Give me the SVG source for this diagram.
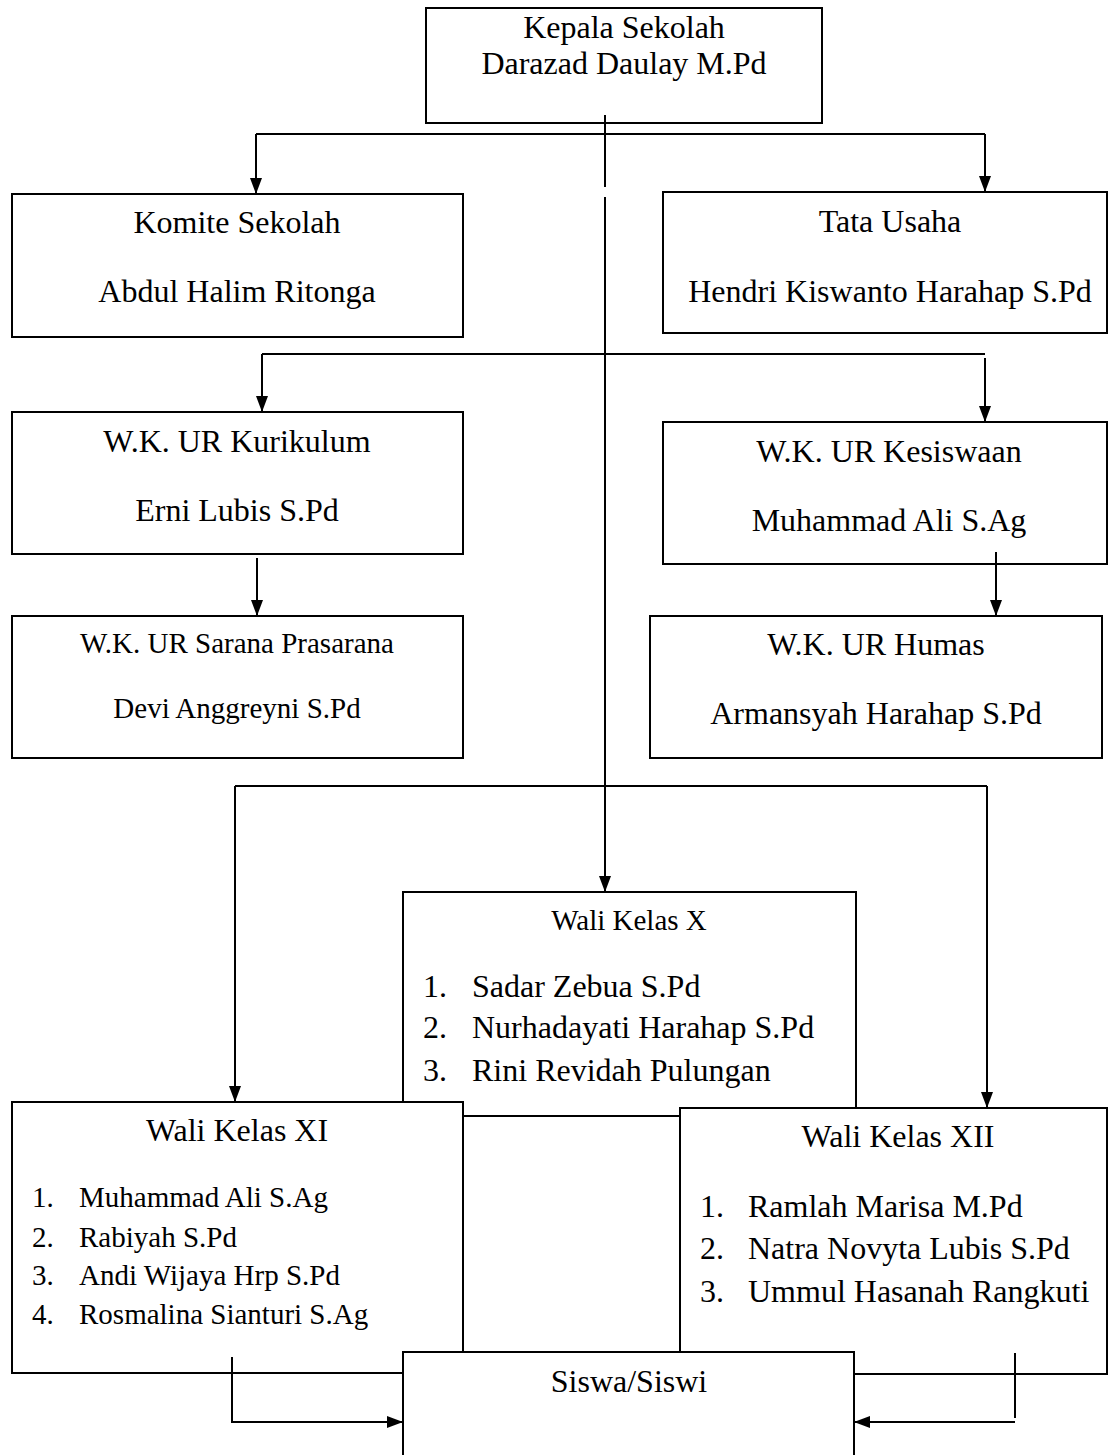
<svg xmlns="http://www.w3.org/2000/svg" width="1109" height="1455" viewBox="0 0 1109 1455">
<style>
.box{fill:#fff;stroke:#000;stroke-width:2}
.t{font-family:"Liberation Serif","Times New Roman",serif;font-size:32px;fill:#000}
.s{font-size:29px}
.m{text-anchor:middle}
.c{fill:none;stroke:#000;stroke-width:2}
</style>
<defs>
<marker id="arr" markerUnits="userSpaceOnUse" markerWidth="16" markerHeight="12" viewBox="0 0 16 12" refX="16" refY="6" orient="auto">
<path d="M0,0 L16,6 L0,12 z" fill="#000"/>
</marker>
</defs>
<rect width="1109" height="1455" fill="#fff"/>
<g id="nodes">
<g id="kepala">
<rect class="box" x="426" y="8" width="396" height="115"/>
<text class="t m" x="624" y="38">Kepala Sekolah</text>
<text class="t m" x="624" y="74">Darazad Daulay M.Pd</text>
</g>
<g id="komite">
<rect class="box" x="12" y="194" width="451" height="143"/>
<text class="t m" x="237" y="233">Komite Sekolah</text>
<text class="t m" x="237" y="302">Abdul Halim Ritonga</text>
</g>
<g id="tata-usaha">
<rect class="box" x="663" y="192" width="444" height="141"/>
<text class="t m" x="890" y="232">Tata Usaha</text>
<text class="t m" x="890" y="302">Hendri Kiswanto Harahap S.Pd</text>
</g>
<g id="kurikulum">
<rect class="box" x="12" y="412" width="451" height="142"/>
<text class="t m" x="237" y="452">W.K. UR Kurikulum</text>
<text class="t m" x="237" y="521">Erni Lubis S.Pd</text>
</g>
<g id="kesiswaan">
<rect class="box" x="663" y="422" width="444" height="142"/>
<text class="t m" x="889" y="462">W.K. UR Kesiswaan</text>
<text class="t m" x="889" y="531">Muhammad Ali S.Ag</text>
</g>
<g id="sarana">
<rect class="box" x="12" y="616" width="451" height="142"/>
<text class="t s m" x="237" y="653">W.K. UR Sarana Prasarana</text>
<text class="t s m" x="237" y="718">Devi Anggreyni S.Pd</text>
</g>
<g id="humas">
<rect class="box" x="650" y="616" width="452" height="142"/>
<text class="t m" x="876" y="655">W.K. UR Humas</text>
<text class="t m" x="876" y="724">Armansyah Harahap S.Pd</text>
</g>
<g id="wali-x">
<rect class="box" x="403" y="892" width="453" height="224"/>
<text class="t s m" x="629" y="930">Wali Kelas X</text>
<text class="t" x="423" y="997">1.</text><text class="t" x="472" y="997">Sadar Zebua S.Pd</text>
<text class="t" x="423" y="1038">2.</text><text class="t" x="472" y="1038">Nurhadayati Harahap S.Pd</text>
<text class="t" x="423" y="1081">3.</text><text class="t" x="472" y="1081">Rini Revidah Pulungan</text>
</g>
<g id="wali-xi">
<rect class="box" x="12" y="1102" width="451" height="271"/>
<text class="t m" x="237" y="1141">Wali Kelas XI</text>
<text class="t s" x="32" y="1207">1.</text><text class="t s" x="79" y="1207">Muhammad Ali S.Ag</text>
<text class="t s" x="32" y="1247">2.</text><text class="t s" x="79" y="1247">Rabiyah S.Pd</text>
<text class="t s" x="32" y="1285">3.</text><text class="t s" x="79" y="1285">Andi Wijaya Hrp S.Pd</text>
<text class="t s" x="32" y="1324">4.</text><text class="t s" x="79" y="1324">Rosmalina Sianturi S.Ag</text>
</g>
<g id="wali-xii">
<rect class="box" x="680" y="1108" width="427" height="266"/>
<text class="t m" x="898" y="1147">Wali Kelas XII</text>
<text class="t" x="700" y="1217">1.</text><text class="t" x="748" y="1217">Ramlah Marisa M.Pd</text>
<text class="t" x="700" y="1259">2.</text><text class="t" x="748" y="1259">Natra Novyta Lubis S.Pd</text>
<text class="t" x="700" y="1302">3.</text><text class="t" x="748" y="1302">Ummul Hasanah Rangkuti</text>
</g>
<g id="siswa">
<rect class="box" x="403" y="1352" width="451" height="120"/>
<text class="t m" x="629" y="1392">Siswa/Siswi</text>
</g>
</g>
<g id="connectors">
<path class="c" d="M605,115 V187"/>
<path class="c" d="M605,197 V892" marker-end="url(#arr)"/>
<path class="c" d="M256,134 H985"/>
<path class="c" d="M256,134 V194" marker-end="url(#arr)"/>
<path class="c" d="M985,134 V192" marker-end="url(#arr)"/>
<path class="c" d="M262,354 H985"/>
<path class="c" d="M262,354 V412" marker-end="url(#arr)"/>
<path class="c" d="M985,358 V422" marker-end="url(#arr)"/>
<path class="c" d="M257,558 V616" marker-end="url(#arr)"/>
<path class="c" d="M996,552 V616" marker-end="url(#arr)"/>
<path class="c" d="M235,786 H987"/>
<path class="c" d="M235,786 V1102" marker-end="url(#arr)"/>
<path class="c" d="M987,786 V1108" marker-end="url(#arr)"/>
<path class="c" d="M232,1357 V1422 H403" marker-end="url(#arr)"/>
<path class="c" d="M1015,1353 V1418"/>
<path class="c" d="M1015,1422 H854" marker-end="url(#arr)"/>
</g>
</svg>
